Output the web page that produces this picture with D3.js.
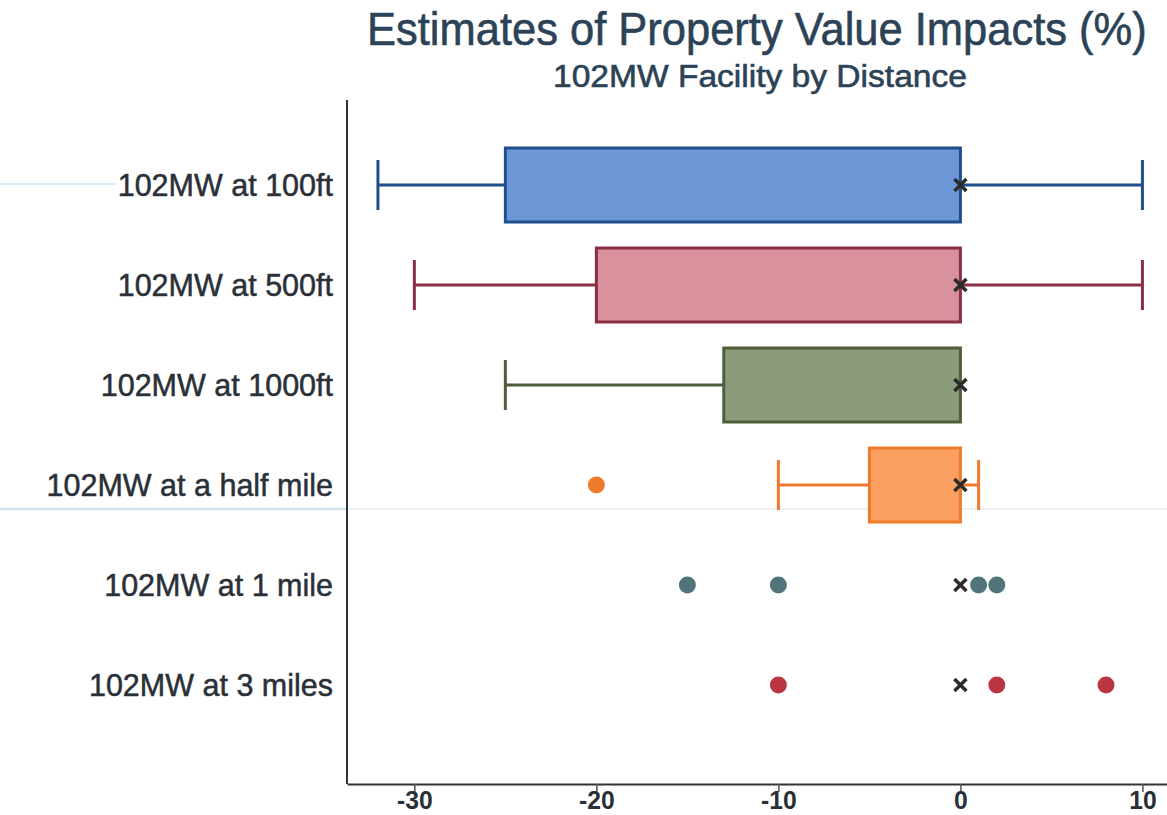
<!DOCTYPE html>
<html>
<head>
<meta charset="utf-8">
<script src="https://cdn.jsdelivr.net/npm/d3@7"></script>
<style>
  html, body { margin: 0; padding: 0; background: #ffffff; }
  svg { display: block; }
</style>
</head>
<body>
<svg id="chart" width="1167" height="815"></svg>
<script>
// ---- data ----
const title = "Estimates of Property Value Impacts (%)";
const subtitle = "102MW Facility by Distance";
const categories = ["102MW at 100ft", "102MW at 500ft", "102MW at 1000ft", "102MW at a half mile", "102MW at 1 mile", "102MW at 3 miles"];
const whiskerLow  = [-32, -30, -25, -10, null, null];
const boxLow      = [-25, -20, -13, -5, null, null];
const boxHigh     = [0, 0, 0, 0, null, null];
const whiskerHigh = [10, 10, 0, 1, null, null];
const crossMarker = [0, 0, 0, 0, 0, 0];
const pointValues = [[], [], [], [-20], [-15, -10, 1, 2], [-10, 2, 8]];
const xTicks = [-30, -20, -10, 0, 10];
const fillColors   = ["#6e97d8", "#d8919d", "#8c9b7a", "#f9a061", "#50747a", "#bb3441"];
const strokeColors = ["#1f4f8a", "#8a2f43", "#4f5d3b", "#ee7a2c", "#50747a", "#bb3441"];
const pointColors  = ["#1f4f8a", "#8a2f43", "#4f5d3b", "#ee7a2c", "#50747a", "#bb3441"];

// ---- layout ----
const svg = d3.select("#chart");
const x = d3.scaleLinear().domain([-33.7, 11.35]).range([347, 1167]);
const y = d3.scalePoint().domain(categories).range([185, 685]);
const boxH = 74, capH = 50;
const FONT = "'Liberation Sans', Arial, sans-serif";

// faint scan lines
svg.append("line").attr("x1", 0).attr("x2", 115).attr("y1", 184).attr("y2", 184)
  .attr("stroke", "#d6e9f3").attr("stroke-width", 2);
svg.append("line").attr("x1", 0).attr("x2", 347).attr("y1", 509).attr("y2", 509)
  .attr("stroke", "#cfe4f0").attr("stroke-width", 2.5);
svg.append("line").attr("x1", 347).attr("x2", 1167).attr("y1", 509).attr("y2", 509)
  .attr("stroke", "#eef3f6").attr("stroke-width", 2);

// condensed text helper: scale horizontally to a target width
function condensed(parent, txt, x0, yBase, size, targetW, color) {
  const t = parent.append("text").attr("x", 0).attr("y", 0)
    .style("font-family", FONT).style("font-size", size + "px")
    .style("fill", color).style("stroke", color).style("stroke-width", 0.6)
    .text(txt);
  const w = t.node().getComputedTextLength();
  t.attr("transform", `translate(${x0},${yBase}) scale(${targetW / w},1)`);
  return t;
}
condensed(svg, title, 367, 45, 46, 780, "#2c4256");
condensed(svg, subtitle, 553, 87, 31, 414, "#2c4256");

// category labels
svg.append("g").selectAll("text").data(categories).join("text")
  .attr("x", 333).attr("y", d => y(d) + 10.5)
  .attr("text-anchor", "end")
  .style("font-family", FONT)
  .style("font-size", "30.5px").style("fill", "#2a3038")
  .style("stroke", "#2a3038").style("stroke-width", 0.5)
  .text(d => d);

// y axis line
svg.append("line").attr("x1", 347).attr("x2", 347).attr("y1", 100).attr("y2", 784)
  .attr("stroke", "#333").attr("stroke-width", 2);

// x axis
const xAxis = d3.axisBottom(x).tickValues(xTicks).tickSize(8).tickSizeOuter(0).tickFormat(d => String(d));
const gx = svg.append("g").attr("transform", "translate(0,784)").call(xAxis);
gx.select(".domain").attr("stroke", "#333").attr("stroke-width", 2);
gx.selectAll(".tick line").attr("stroke", "#555").attr("stroke-width", 1.5);
gx.selectAll(".tick text").attr("dy", null).attr("y", 0)
  .attr("transform", "translate(0,25) scale(0.95,1)")
  .style("font-family", FONT)
  .style("font-size", "26px").style("font-weight", "bold").style("fill", "#2a3038");

// boxes
const rows = categories.map((c, i) => ({c, i}));
const g = svg.append("g");
rows.forEach(({c, i}) => {
  const cy = y(c);
  if (whiskerLow[i] !== null) {
    if (whiskerLow[i] < boxLow[i]) {
      g.append("line").attr("x1", x(whiskerLow[i])).attr("x2", x(boxLow[i])).attr("y1", cy).attr("y2", cy)
        .attr("stroke", strokeColors[i]).attr("stroke-width", 3);
      g.append("line").attr("x1", x(whiskerLow[i])).attr("x2", x(whiskerLow[i])).attr("y1", cy - capH/2).attr("y2", cy + capH/2)
        .attr("stroke", strokeColors[i]).attr("stroke-width", 3);
    }
    if (whiskerHigh[i] > boxHigh[i]) {
      g.append("line").attr("x1", x(boxHigh[i])).attr("x2", x(whiskerHigh[i])).attr("y1", cy).attr("y2", cy)
        .attr("stroke", strokeColors[i]).attr("stroke-width", 3);
      g.append("line").attr("x1", x(whiskerHigh[i])).attr("x2", x(whiskerHigh[i])).attr("y1", cy - capH/2).attr("y2", cy + capH/2)
        .attr("stroke", strokeColors[i]).attr("stroke-width", 3);
    }
    g.append("rect").attr("x", x(boxLow[i])).attr("y", cy - boxH/2)
      .attr("width", x(boxHigh[i]) - x(boxLow[i])).attr("height", boxH)
      .attr("fill", fillColors[i]).attr("stroke", strokeColors[i]).attr("stroke-width", 3);
  }
  g.selectAll(null).data(pointValues[i]).join("circle")
    .attr("cx", d => x(d)).attr("cy", cy).attr("r", 8.5)
    .attr("fill", pointColors[i]);
  const mx = x(crossMarker[i]), s = 6;
  g.append("path").attr("d", `M${mx - s},${cy - s}L${mx + s},${cy + s}M${mx - s},${cy + s}L${mx + s},${cy - s}`)
    .attr("stroke", "#2b2b2b").attr("stroke-width", 3.5).attr("fill", "none");
});
</script>
</body>
</html>
